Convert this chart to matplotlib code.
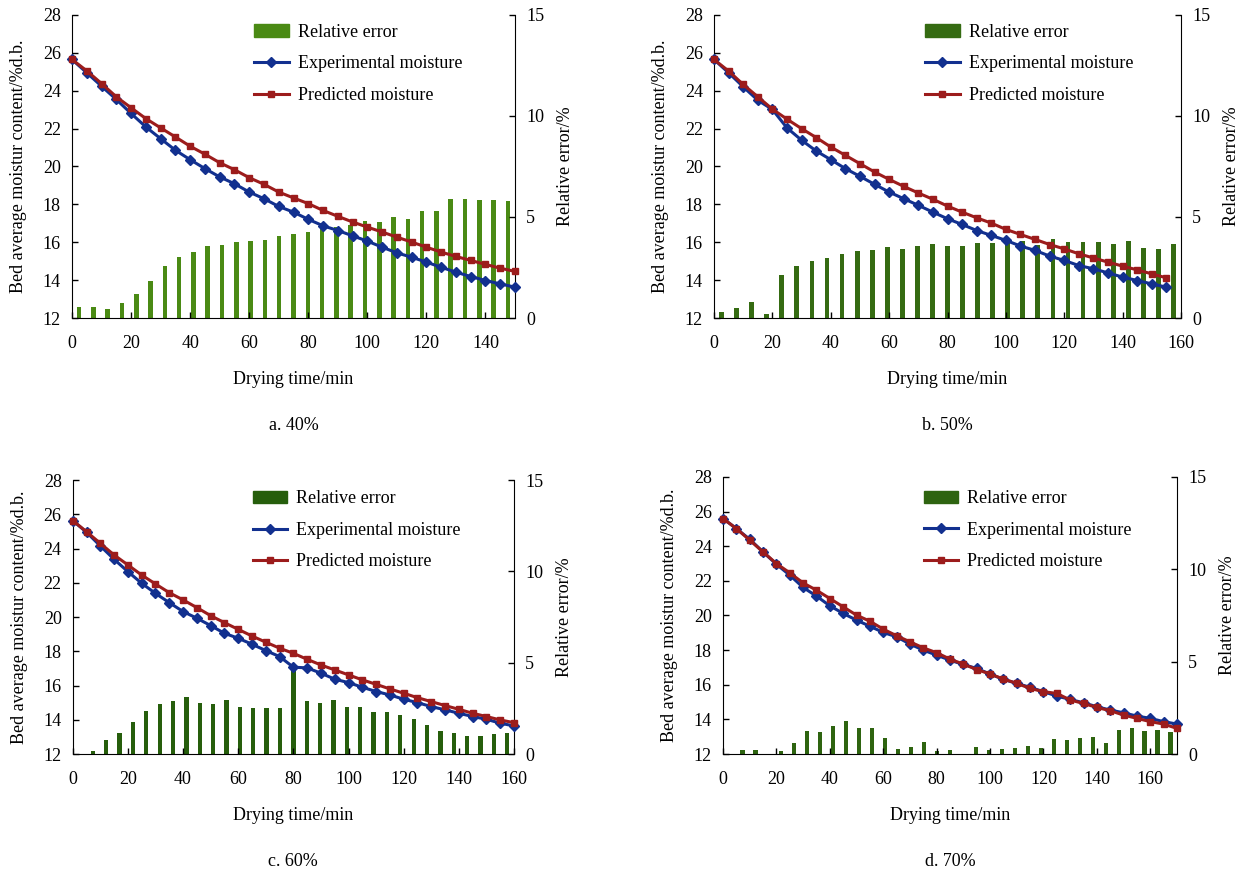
import numpy as np
import matplotlib
matplotlib.use('Agg')
import matplotlib.pyplot as plt
from matplotlib.patches import Patch
from matplotlib.lines import Line2D

plt.rcParams['font.family'] = ['Liberation Serif', 'DejaVu Serif']
plt.rcParams['font.size'] = 13

# ---- data ----
# a. 40%
time_a = np.arange(0, 151, 5)
exp_a = [25.65, 24.95, 24.24, 23.54, 22.80, 22.09, 21.47, 20.86, 20.36, 19.89, 19.45,
         19.09, 18.65, 18.30, 17.89, 17.59, 17.21, 16.87, 16.62, 16.34, 16.06, 15.74,
         15.44, 15.21, 14.95, 14.68, 14.42, 14.19, 13.98, 13.80, 13.63]
pred_a = [25.65, 25.05, 24.38, 23.68, 23.10, 22.53, 22.04, 21.56, 21.07, 20.65, 20.20,
          19.83, 19.41, 19.06, 18.65, 18.34, 18.04, 17.68, 17.37, 17.07, 16.80, 16.54,
          16.27, 16.01, 15.74, 15.48, 15.25, 15.04, 14.83, 14.63, 14.46]
err_a = [0.53, 0.53, 0.43, 0.73, 1.19, 1.85, 2.55, 3.01, 3.26, 3.54, 3.62, 3.74, 3.83,
         3.87, 4.08, 4.17, 4.26, 4.40, 4.50, 4.58, 4.79, 4.74, 5.02, 4.91, 5.29, 5.29,
         5.87, 5.87, 5.82, 5.82, 5.79]

# b. 50%
time_b = np.arange(0, 156, 5)
exp_b = [25.65, 24.95, 24.21, 23.50, 23.01, 22.04, 21.39, 20.82, 20.36, 19.89, 19.48,
         19.06, 18.65, 18.30, 17.95, 17.59, 17.24, 16.94, 16.62, 16.36, 16.10, 15.80,
         15.57, 15.27, 15.04, 14.77, 14.60, 14.38, 14.16, 13.98, 13.80, 13.63]
pred_b = [25.65, 25.04, 24.33, 23.68, 23.03, 22.50, 22.00, 21.53, 21.03, 20.59, 20.15,
          19.71, 19.32, 18.95, 18.60, 18.27, 17.91, 17.59, 17.29, 17.01, 16.68, 16.41,
          16.15, 15.88, 15.65, 15.39, 15.17, 14.95, 14.74, 14.54, 14.33, 14.12]
err_b = [0.28, 0.50, 0.81, 0.20, 2.15, 2.55, 2.84, 2.98, 3.17, 3.34, 3.39, 3.50, 3.42,
         3.54, 3.67, 3.55, 3.55, 3.70, 3.70, 3.83, 3.83, 3.59, 3.90, 3.74, 3.74, 3.74,
         3.64, 3.83, 3.47, 3.42, 3.64]

# c. 60%
time_c = np.arange(0, 161, 5)
exp_c = [25.63, 24.95, 24.15, 23.37, 22.65, 21.97, 21.38, 20.84, 20.32, 19.93, 19.50,
         19.05, 18.76, 18.41, 18.04, 17.69, 17.07, 17.03, 16.72, 16.37, 16.17, 15.90,
         15.65, 15.45, 15.20, 15.00, 14.77, 14.58, 14.38, 14.19, 14.03, 13.80, 13.64]
pred_c = [25.63, 24.98, 24.30, 23.62, 23.04, 22.45, 21.93, 21.42, 21.00, 20.55, 20.08,
          19.67, 19.28, 18.89, 18.53, 18.18, 17.88, 17.53, 17.20, 16.91, 16.62, 16.33,
          16.07, 15.80, 15.55, 15.29, 15.06, 14.83, 14.61, 14.38, 14.19, 13.99, 13.83]
err_c = [0.00, 0.16, 0.77, 1.13, 1.73, 2.34, 2.74, 2.88, 3.10, 2.81, 2.74, 2.96, 2.59,
         2.50, 2.52, 2.52, 4.60, 2.88, 2.77, 2.96, 2.55, 2.59, 2.32, 2.28, 2.14, 1.90,
         1.57, 1.28, 1.13, 0.99, 0.99, 1.08, 1.13]

# d. 70%
time_d = np.arange(0, 171, 5)
exp_d = [25.60, 25.02, 24.40, 23.67, 22.96, 22.33, 21.62, 21.12, 20.56, 20.12, 19.73,
         19.38, 19.02, 18.77, 18.35, 18.00, 17.71, 17.42, 17.17, 16.94, 16.62, 16.31,
         16.08, 15.85, 15.60, 15.35, 15.15, 14.96, 14.73, 14.54, 14.38, 14.19, 14.06,
         13.87, 13.73]
pred_d = [25.60, 25.02, 24.35, 23.67, 23.00, 22.46, 21.88, 21.46, 20.98, 20.50, 20.02,
          19.67, 19.21, 18.83, 18.48, 18.13, 17.85, 17.48, 17.19, 16.88, 16.62, 16.33,
          16.08, 15.79, 15.60, 15.50, 15.12, 14.92, 14.69, 14.50, 14.25, 14.06, 13.87,
          13.73, 13.48]
err_d = [0.00, 0.22, 0.22, 0.00, 0.16, 0.61, 1.26, 1.21, 1.53, 1.80, 1.39, 1.42, 0.85,
         0.29, 0.40, 0.63, 0.18, 0.22, 0.00, 0.40, 0.22, 0.29, 0.34, 0.43, 0.34, 0.81,
         0.74, 0.85, 0.92, 0.61, 1.30, 1.39, 1.26, 1.30, 1.21]

panels = [
    ('a. 40%', time_a, exp_a, pred_a, err_a, 150),
    ('b. 50%', time_b, exp_b, pred_b, err_b, 160),
    ('c. 60%', time_c, exp_c, pred_c, err_c, 160),
    ('d. 70%', time_d, exp_d, pred_d, err_d, 170),
]

# axes boxes [left, bottom, width, height] in figure fraction
boxes = [
    [0.0576, 0.6349, 0.3544, 0.3479],
    [0.5712, 0.6349, 0.3736, 0.3479],
    [0.0582, 0.1343, 0.3530, 0.3146],
    [0.5784, 0.1343, 0.3632, 0.3181],
]
legend_x = [0.391, 0.433, 0.388, 0.423]
legend_y = [1.0, 1.0, 0.995, 0.985]
bar_colors = ['#4a8a14', '#356b12', '#265e0c', '#2e6410']

EXP_COLOR = '#12308f'
PRED_COLOR = '#9c1c1c'

fig = plt.figure(figsize=(12.5, 8.71), dpi=100)

for (caption, t, exp, pred, err, xmax), box, lx, ly, bc in zip(panels, boxes, legend_x,
                                                               legend_y, bar_colors):
    ax = fig.add_axes(box)
    ax2 = ax.twinx()

    # bars sit on category slots spanning the whole x range (Excel style)
    n = len(err)
    slot = xmax / n
    bar_x = (np.arange(n) + 0.5) * slot
    ax2.bar(bar_x, err, width=slot * 0.32, color=bc, zorder=1)
    ax2.set_ylim(0, 15)
    ax2.set_yticks([0, 5, 10, 15])
    ax2.set_ylabel('Relative error/%', labelpad=9)

    ax.plot(t, exp, '-D', color=EXP_COLOR, lw=2.2, ms=5.5, clip_on=False, zorder=3)
    ax.plot(t, pred, '-s', color=PRED_COLOR, lw=2.2, ms=5, clip_on=False, zorder=4)
    ax.set_zorder(ax2.get_zorder() + 1)
    ax.patch.set_visible(False)

    ax.set_xlim(0, xmax)
    ax.set_ylim(12, 28)
    ax.set_yticks(range(12, 29, 2))
    ax.set_xticks(range(0, 161 if xmax >= 160 else 141, 20))
    ax.set_xlabel('Drying time/min', labelpad=14)
    ax.set_ylabel('Bed average moistur content/%d.b.', labelpad=11)

    for a in (ax, ax2):
        a.spines['top'].set_visible(False)
        a.tick_params(direction='in', length=4, width=1, labelsize=13, pad=8)
    ax.tick_params(axis='x', pad=12)
    ax.spines['right'].set_visible(False)
    ax2.spines['left'].set_visible(False)
    ax2.spines['bottom'].set_visible(False)

    handles = [Patch(color=bc),
               Line2D([], [], color=EXP_COLOR, lw=2.2, marker='D', ms=5.5),
               Line2D([], [], color=PRED_COLOR, lw=2.2, marker='s', ms=5)]
    labels = ['Relative error', 'Experimental moisture', 'Predicted moisture']
    ax.legend(handles, labels, loc='upper left', bbox_to_anchor=(lx, ly),
              frameon=False, fontsize=13, borderpad=0, handlelength=1.9,
              handletextpad=0.5, labelspacing=0.8)

    cx = box[0] + box[2] / 2
    cy = box[1] - 0.123
    fig.text(cx, cy, caption, ha='center', va='center', fontsize=13)

fig.savefig('out.png', dpi=100)
